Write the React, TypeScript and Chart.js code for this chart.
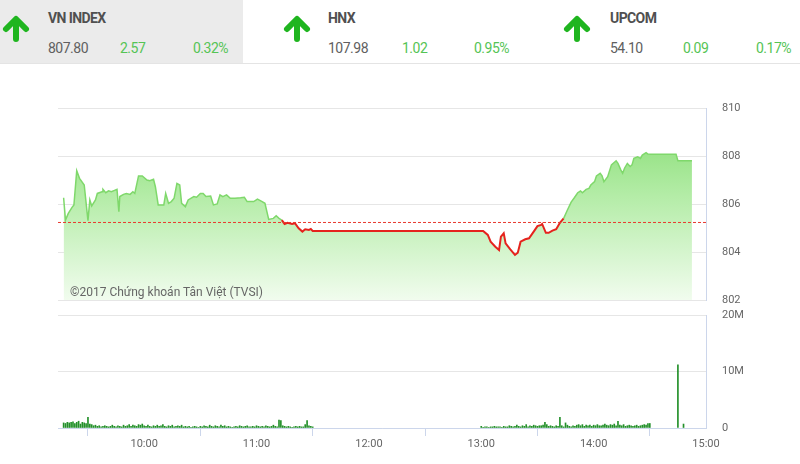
import React, { useEffect, useRef } from "react";
import { Chart, registerables } from "chart.js";
Chart.register(...registerables);

// ---------- data ----------
const indexNames = ["VN INDEX", "HNX", "UPCOM"];
const indexValues = ["807.80", "107.98", "54.10"];
const indexChanges = ["2.57", "1.02", "0.09"];
const indexPercents = ["0.32%", "0.95%", "0.17%"];

const refClose = 805.23;
const axisStart = "09:14";
const axisEnd = "15:00";
const hourTicks = ["10:00", "11:00", "12:00", "13:00", "14:00", "15:00"];
const priceTicks = [802, 804, 806, 808, 810];
const volumeTicks = [0, 10, 20];

const priceTimes = [
  "09:17", "09:18", "09:19:30", "09:21:30", "09:22:30", "09:24", "09:25:30", "09:28", "09:30", "09:31",
  "09:32", "09:34", "09:35", "09:37:30", "09:38", "09:39:30", "09:41", "09:42:30", "09:44:30", "09:45:30",
  "09:46:30", "09:47", "09:49", "09:50:30", "09:52:30", "09:54", "09:55", "09:57", "09:59", "10:01:30",
  "10:03", "10:05", "10:06", "10:07:30", "10:10:30", "10:11:30", "10:13", "10:14:30", "10:16", "10:17:30",
  "10:19", "10:20", "10:22", "10:23:30", "10:26:30", "10:28", "10:30", "10:31:30", "10:33", "10:35:30",
  "10:37", "10:39", "10:40:30", "10:42", "10:44", "10:46", "10:48:30", "10:51:30", "10:53:30", "10:55",
  "10:58:30", "11:00:30", "11:03", "11:04:30", "11:06:30", "11:09", "11:10:30", "11:12", "11:13:30", "11:15",
  "11:16:30", "11:19", "11:20:30", "11:22:30", "11:24:30", "11:26", "11:28", "11:29", "11:30",
  "13:01", "13:03:30", "13:05", "13:07:30", "13:09:30", "13:10:30", "13:12", "13:13", "13:15:30", "13:18",
  "13:19:30", "13:21", "13:23:30", "13:25:30", "13:28", "13:30", "13:32", "13:32:30", "13:34:30", "13:36",
  "13:38", "13:40", "13:42", "13:44", "13:46", "13:48", "13:49:30", "13:51:30", "13:53", "13:54",
  "13:56", "13:57:30", "13:58:30", "14:00:30", "14:01:30", "14:03:30", "14:04:30", "14:05:30", "14:07:30", "14:09:30",
  "14:12", "14:13", "14:14:30", "14:15:30", "14:16:30", "14:18", "14:19:30", "14:20:30", "14:21:30", "14:23:30",
  "14:25", "14:26", "14:28", "14:29", "14:30:30", "14:44", "14:45", "14:52:30",
];
const priceValues = [
  806.26, 805.33, 805.61, 805.86, 805.96, 807.39, 807.07, 806.79, 805.31, 806.17,
  805.92, 806.17, 806.44, 806.51, 806.61, 806.47, 806.55, 806.51, 806.58, 806.61,
  805.68, 806.31, 806.40, 806.44, 806.40, 806.51, 806.44, 807.17, 807.17, 807.00,
  806.97, 807.03, 806.72, 805.96, 805.96, 806.44, 806.03, 806.10, 806.24, 806.86,
  806.79, 806.03, 805.89, 806.17, 806.31, 806.28, 806.44, 806.44, 806.31, 806.33,
  805.96, 806.00, 806.38, 806.31, 806.38, 806.24, 806.24, 806.26, 806.28, 806.10,
  806.10, 806.20, 806.10, 806.03, 805.36, 805.40, 805.51, 805.40, 805.33, 805.17,
  805.22, 805.17, 805.20, 804.99, 804.85, 804.95, 804.92, 804.96, 804.88,
  804.88, 804.71, 804.43, 804.22, 804.08, 804.64, 804.78, 804.36, 804.11, 803.88,
  803.97, 804.43, 804.53, 804.57, 804.85, 805.08, 805.13, 805.17, 804.80, 804.80,
  804.89, 804.95, 805.22, 805.40, 805.75, 806.08, 806.24, 806.47, 806.54, 806.47,
  806.61, 806.65, 806.79, 806.93, 807.17, 807.28, 807.17, 806.93, 807.14, 807.63,
  807.80, 807.69, 807.42, 807.28, 807.49, 807.69, 807.56, 807.63, 807.90, 807.97,
  807.90, 808.04, 808.14, 808.08, 808.07, 808.07, 807.80, 807.80,
];

// volume in millions, one bar per minute
const morningStart = "09:17";
const morningVolumes = [
  0.9, 0.8, 1.0, 0.9, 1.0, 1.1, 0.8, 1.0, 1.2, 0.7,
  1.0, 0.9, 0.8, 1.9, 0.7, 0.6, 0.4, 0.5, 0.3, 0.4,
  0.2, 0.3, 0.4, 0.3, 0.2, 0.3, 0.5, 0.3, 0.2, 0.4,
  0.3, 0.2, 0.5, 0.3, 0.4, 0.6, 0.3, 0.5, 0.4, 0.3,
  0.6, 0.5, 0.7, 0.4, 0.3, 0.5, 0.3, 0.2, 0.4, 0.3,
  0.5, 0.3, 0.4, 0.6, 0.3, 0.2, 0.4, 0.3, 0.5, 0.2,
  0.3, 0.4, 0.3, 0.5, 0.2, 0.3, 0.2, 0.3, 0.1, 0.2,
  0.3, 0.2, 0.1, 0.3, 0.2, 0.4, 0.3, 0.2, 0.5, 0.3,
  0.2, 0.4, 0.3, 0.2, 0.5, 0.3, 0.4, 0.2, 0.3, 0.2,
  0.1, 0.2, 0.3, 0.2, 0.4, 0.3, 0.2, 0.3, 0.4, 0.2,
  0.2, 0.3, 0.2, 0.4, 0.3, 0.2, 0.3, 0.2, 0.4, 0.3,
  0.2, 0.3, 0.5, 0.3, 0.2, 1.4, 1.3, 0.4, 0.3, 0.2,
  0.3, 0.2, 0.1, 0.2, 0.3, 0.2, 0.3, 0.2, 0.2, 0.6,
  1.3, 0.4, 0.3, 0.2,
];
const afternoonStart = "13:00";
const afternoonVolumes = [
  0.3, 0.1, 0.2, 0.2, 0.1, 0.2, 0.2, 0.3, 0.2, 0.2,
  0.2, 0.1, 0.3, 0.2, 0.2, 0.4, 0.3, 0.2, 0.3, 0.5,
  0.3, 0.2, 0.4, 0.3, 0.6, 0.2, 0.4, 0.3, 0.5, 0.4,
  0.3, 0.4, 0.4, 0.5, 1.0, 0.6, 0.3, 0.4, 0.3, 0.2,
  0.4, 0.3, 1.9, 0.4, 0.2, 0.9, 0.5, 0.3, 0.2, 0.4,
  0.3, 0.5, 0.6, 0.4, 0.6, 0.3, 0.5, 0.4, 0.5, 0.3,
  0.5, 0.4, 0.6, 0.4, 0.4, 0.5, 0.7, 0.5, 0.4, 0.6,
  0.5, 0.7, 0.4, 1.2, 0.5, 0.4, 0.6, 0.3, 0.4, 0.5,
  0.4, 0.3, 0.4, 0.5, 0.3, 0.4, 0.5, 0.6, 0.5, 0.8,
  0.8,
];
const atcTimes = ["14:45", "14:48"];
const atcVolumes = [11.2, 0.7];

// ---------- helpers ----------
const toMin = (s: string) => {
  const [h, m, sec] = s.split(":").map(Number);
  return h * 60 + m + (sec || 0) / 60;
};
const fmtTime = (v: number) => {
  const h = Math.floor(v / 60);
  const m = Math.round(v - h * 60);
  return `${h}:${m < 10 ? "0" : ""}${m}`;
};

const GREEN_LINE = "#7fd86b";
const RED_LINE = "#e5231d";
const GRID = "#e6e6e6";
const AXIS = "#ccd6eb";
const LABEL = "#666666";
const FONT = "Roboto";

const Arrow = ({ left }: { left: number }) => (
  <svg
    width={30}
    height={30}
    viewBox="0 0 30 30"
    style={{ position: "absolute", left, top: 14 }}
  >
    <path
      d="M15 25 V7 M5 15 L15 5 L25 15"
      stroke="#1fb51f"
      strokeWidth={6}
      strokeLinecap="round"
      strokeLinejoin="round"
      fill="none"
    />
  </svg>
);

export default function App() {
  const priceRef = useRef<HTMLCanvasElement>(null);
  const volRef = useRef<HTMLCanvasElement>(null);

  useEffect(() => {
    const xMin = toMin(axisStart);
    const xMax = toMin(axisEnd);
    const priceData = priceTimes.map((t, i) => ({ x: toMin(t), y: priceValues[i] }));
    const below = (ctx: any) => ctx.p0.parsed.y < refClose || ctx.p1.parsed.y < refClose;

    const priceChart = new Chart(priceRef.current!, {
      type: "line",
      data: {
        datasets: [
          {
            // previous close reference
            data: [
              { x: xMin, y: refClose },
              { x: xMax, y: refClose },
            ],
            borderColor: "#e8392f",
            borderWidth: 1,
            borderDash: [3, 2],
            pointRadius: 0,
            fill: false,
            order: 0,
          },
          {
            // price line
            data: priceData,
            borderColor: GREEN_LINE,
            borderWidth: 1.5,
            pointRadius: 0,
            tension: 0,
            fill: false,
            order: 1,
            segment: {
              borderColor: (ctx: any) => (below(ctx) ? RED_LINE : GREEN_LINE),
              borderWidth: (ctx: any) => (below(ctx) ? 2 : 1.5),
            },
          },
          {
            // area under price
            data: priceData,
            borderWidth: 0,
            borderColor: "rgba(0,0,0,0)",
            pointRadius: 0,
            tension: 0,
            fill: "start",
            order: 2,
            backgroundColor: (ctx: any) => {
              const { chart } = ctx;
              const area = chart.chartArea;
              if (!area) return "#bdf0b0";
              const g = chart.ctx.createLinearGradient(0, area.top, 0, area.bottom);
              g.addColorStop(0, "#7fda6a");
              g.addColorStop(0.45, "#b3eca6");
              g.addColorStop(1, "#f1fcee");
              return g;
            },
          },
        ],
      },
      options: {
        animation: false,
        responsive: true,
        maintainAspectRatio: false,
        layout: { padding: { left: 58, top: 108, bottom: 164, right: 0 } },
        plugins: { legend: { display: false }, tooltip: { enabled: false } },
        scales: {
          x: { type: "linear", min: xMin, max: xMax, display: false },
          y: {
            position: "right",
            min: 802,
            max: 810,
            afterBuildTicks: (s: any) => {
              s.ticks = priceTicks.map((v) => ({ value: v }));
            },
            afterFit: (s: any) => {
              s.width = 94;
            },
            grid: { color: GRID, drawTicks: false },
            border: { display: true, color: AXIS },
            ticks: {
              padding: 16,
              color: LABEL,
              font: { family: FONT, size: 11 },
            },
          },
        },
      },
    });

    const morningBars = morningVolumes.map((v, i) => ({ x: toMin(morningStart) + i, y: v }));
    const afternoonBars = afternoonVolumes.map((v, i) => ({ x: toMin(afternoonStart) + i, y: v }));
    const atcBars = atcTimes.map((t, i) => ({ x: toMin(t), y: atcVolumes[i] }));

    const volChart = new Chart(volRef.current!, {
      type: "bar",
      data: {
        datasets: [
          {
            data: [...morningBars, ...afternoonBars, ...atcBars],
            backgroundColor: "#23902a",
            barThickness: 1,
          } as any,
        ],
      },
      options: {
        animation: false,
        responsive: true,
        maintainAspectRatio: false,
        layout: { padding: { left: 58, top: 315, bottom: 6, right: 0 } },
        plugins: { legend: { display: false }, tooltip: { enabled: false } },
        scales: {
          x: {
            type: "linear",
            min: xMin,
            max: xMax,
            offset: false,
            afterBuildTicks: (s: any) => {
              s.ticks = hourTicks.map((t) => ({ value: toMin(t) }));
            },
            afterFit: (s: any) => {
              s.height = 30;
            },
            grid: { drawOnChartArea: false, drawTicks: true, tickLength: 8, color: AXIS },
            border: { display: true, color: AXIS },
            ticks: {
              padding: 2,
              maxRotation: 0,
              color: LABEL,
              font: { family: FONT, size: 11 },
              callback: (v: any) => fmtTime(Number(v)),
            },
          },
          y: {
            position: "right",
            min: 0,
            max: 20,
            afterBuildTicks: (s: any) => {
              s.ticks = volumeTicks.map((v) => ({ value: v }));
            },
            afterFit: (s: any) => {
              s.width = 94;
            },
            grid: { color: GRID, drawTicks: false },
            border: { display: true, color: AXIS },
            ticks: {
              padding: 16,
              color: LABEL,
              font: { family: FONT, size: 11 },
              callback: (v: any) => (Number(v) === 0 ? "0" : `${v}M`),
            },
          },
        },
      },
    });

    return () => {
      priceChart.destroy();
      volChart.destroy();
    };
  }, []);

  const cols = [
    { arrow: 0.5, text: 48, change: 120, pct: 193 },
    { arrow: 281.5, text: 328, change: 402, pct: 474 },
    { arrow: 562, text: 610, change: 683, pct: 756 },
  ];

  return (
    <div
      style={{
        position: "absolute",
        left: 0,
        top: 0,
        width: 800,
        height: 464,
        background: "#ffffff",
        fontFamily: FONT,
        overflow: "hidden",
      }}
    >
      <div style={{ position: "absolute", left: 0, top: 0, width: 243, height: 63, background: "#ebebeb" }} />
      <div style={{ position: "absolute", left: 0, top: 63, width: 800, height: 1, background: "#e4e4e4" }} />
      {indexNames.map((name, i) => (
        <React.Fragment key={name}>
          <Arrow left={cols[i].arrow} />
          <div
            style={{
              position: "absolute",
              left: cols[i].text,
              top: 10,
              fontSize: 14,
              lineHeight: "16px",
              fontWeight: 700,
              color: "#505050",
              letterSpacing: -0.6,
              whiteSpace: "nowrap",
            }}
          >
            {name}
          </div>
          <div
            style={{
              position: "absolute",
              left: cols[i].text,
              top: 40,
              fontSize: 14,
              lineHeight: "16px",
              color: "#606060",
              letterSpacing: -0.5,
            }}
          >
            {indexValues[i]}
          </div>
          <div
            style={{
              position: "absolute",
              left: cols[i].change,
              top: 40,
              fontSize: 14,
              lineHeight: "16px",
              color: "#55c455",
              letterSpacing: -0.5,
            }}
          >
            {indexChanges[i]}
          </div>
          <div
            style={{
              position: "absolute",
              left: cols[i].pct,
              top: 40,
              fontSize: 14,
              lineHeight: "16px",
              color: "#55c455",
              letterSpacing: -0.5,
            }}
          >
            {indexPercents[i]}
          </div>
        </React.Fragment>
      ))}
      <div style={{ position: "absolute", left: 0, top: 0, width: 800, height: 464 }}>
        <canvas ref={priceRef} />
      </div>
      <div style={{ position: "absolute", left: 0, top: 0, width: 800, height: 464 }}>
        <canvas ref={volRef} />
      </div>
      <div
        style={{
          position: "absolute",
          left: 70,
          top: 285,
          fontSize: 12,
          lineHeight: "14px",
          color: "#666666",
          whiteSpace: "nowrap",
        }}
      >
        ©2017 Chứng khoán Tân Việt (TVSI)
      </div>
    </div>
  );
}
